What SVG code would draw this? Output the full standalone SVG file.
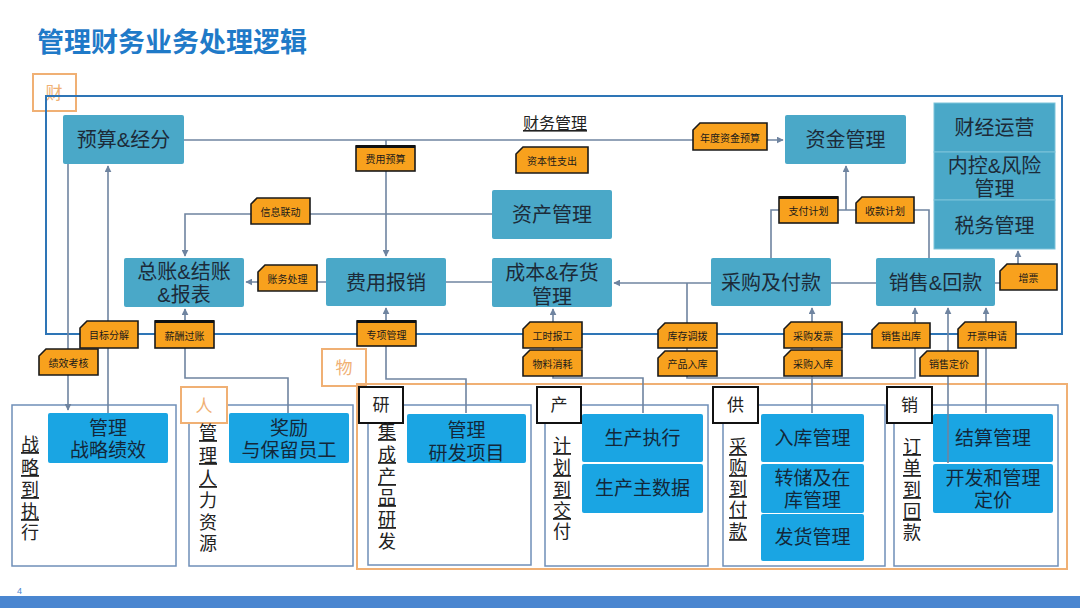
<svg xmlns="http://www.w3.org/2000/svg" width="1080" height="608" viewBox="0 0 1080 608">
<defs>
<marker id="ar" viewBox="0 0 10 10" refX="9" refY="5" markerWidth="7" markerHeight="7" orient="auto" markerUnits="userSpaceOnUse">
<path d="M0,0 L10,5 L0,10 z" fill="#6f84a0"/>
</marker>
<style>
text{font-family:"Liberation Sans","Noto Sans CJK SC",sans-serif;}
.title{font-size:27px;font-weight:bold;fill:#1f7ac8;}
.tn{fill:#4aa8c8;}
.tnt{font-size:20px;fill:#1c2b39;text-anchor:middle;}
.bn{fill:#1aa5e3;}
.bnt{font-size:19px;fill:#13283a;text-anchor:middle;}
.cn{fill:none;stroke:#6f84a0;stroke-width:1.6;}
.frame{fill:none;stroke:#2e75b6;stroke-width:2;}
.ob{fill:#fff;stroke:#f0b074;stroke-width:2;}
.obt{font-size:17px;fill:#f0b074;text-anchor:middle;}
.kb{fill:#fff;stroke:#111;stroke-width:2;}
.kbt{font-size:17px;fill:#222;text-anchor:middle;}
.sf{fill:none;stroke:#6f8fb8;stroke-width:1.5;}
.tag{fill:#f8a11d;stroke:#1a1a1a;stroke-width:1.6;}
.tagt{font-size:10px;fill:#1a1a1a;text-anchor:middle;}
.vt{font-size:18px;fill:#222;text-anchor:middle;}
.u{text-decoration:underline;}
</style>
</defs>
<rect width="1080" height="608" fill="#fff"/>
<text class="title" x="37" y="52">管理财务业务处理逻辑</text>

<g id="cai">
<rect class="ob" x="33" y="74" width="43" height="37"/>
<text class="obt" x="54" y="99">财</text>
</g>
<rect id="frame-cai" class="frame" x="46" y="96" width="1016" height="238"/>

<g id="wu">
<rect class="ob" x="322" y="349" width="44" height="37"/>
<text class="obt" x="344" y="374">物</text>
</g>
<rect id="frame-wu" fill="none" stroke="#f0b074" stroke-width="2" x="357" y="384" width="710" height="185"/>

<g id="sub-frames">
<rect class="sf" x="12" y="405" width="164" height="161"/>
<rect class="sf" x="189" y="405" width="164" height="161"/>
<rect class="sf" x="368" y="405" width="163" height="160"/>
<rect class="sf" x="545" y="405" width="163" height="161"/>
<rect class="sf" x="723" y="405" width="162" height="161"/>
<rect class="sf" x="894" y="405" width="164" height="161"/>
</g>

<text x="555" y="129" font-size="16" fill="#222" text-anchor="middle" text-decoration="underline">财务管理</text>

<g id="connectors">
<path class="cn" d="M184,140 H783" marker-end="url(#ar)"/>
<path class="cn" d="M386,140 V256" marker-end="url(#ar)"/>
<path class="cn" d="M492,214 H185 V256" marker-end="url(#ar)"/>
<path class="cn" d="M326,282 H246" marker-end="url(#ar)"/>
<path class="cn" d="M446,282 H492"/>
<path class="cn" d="M711,283 H614" marker-end="url(#ar)"/>
<path class="cn" d="M876,283 H831"/>
<path class="cn" d="M687,283 V378 H915 V308" marker-end="url(#ar)"/>
<path class="cn" d="M771,258 V210 H929 V258"/>
<path class="cn" d="M846,210 V166" marker-end="url(#ar)"/>
<path class="cn" d="M995,283 H1018 V251" marker-end="url(#ar)"/>
<path class="cn" d="M68,164 V410" marker-end="url(#ar)"/>
<path class="cn" d="M108,413 V166" marker-end="url(#ar)"/>
<path class="cn" d="M288,413 V378 H185 V309" marker-end="url(#ar)"/>
<path class="cn" d="M466,413 V379 H386 V308" marker-end="url(#ar)"/>
<path class="cn" d="M643,413 V378 H553 V309" marker-end="url(#ar)"/>
<path class="cn" d="M812,413 V308" marker-end="url(#ar)"/>
<path class="cn" d="M986,413 V308" marker-end="url(#ar)"/>
</g>

<g id="yusuan"><rect class="tn" x="63" y="115" width="121" height="49" rx="2"/><text class="tnt" x="123.5" y="147">预算&amp;经分</text></g>
<g id="zijin"><rect class="tn" x="785" y="115" width="121" height="49" rx="2"/><text class="tnt" x="845.5" y="147">资金管理</text></g>
<g id="caijing"><rect class="tn" x="934" y="103" width="121" height="49" stroke="#7cc3da" stroke-width="1"/><text class="tnt" x="994.5" y="135">财经运营</text></g>
<g id="neikong"><rect class="tn" x="934" y="152" width="121" height="48" stroke="#7cc3da" stroke-width="1"/><text class="tnt" x="994.5" y="173">内控&amp;风险<tspan x="994.5" dy="23">管理</tspan></text></g>
<g id="shuiwu"><rect class="tn" x="934" y="200" width="121" height="49" stroke="#7cc3da" stroke-width="1"/><text class="tnt" x="994.5" y="233">税务管理</text></g>
<g id="zichan"><rect class="tn" x="492" y="190" width="120" height="49" rx="2"/><text class="tnt" x="552" y="222">资产管理</text></g>
<g id="zongzhang"><rect class="tn" x="124" y="258" width="120" height="49" rx="2"/><text class="tnt" x="184" y="279">总账&amp;结账<tspan x="184" dy="23">&amp;报表</tspan></text></g>
<g id="feiyong"><rect class="tn" x="326" y="258" width="120" height="48" rx="2"/><text class="tnt" x="386" y="290">费用报销</text></g>
<g id="chengben"><rect class="tn" x="492" y="258" width="120" height="49" rx="2"/><text class="tnt" x="552" y="280">成本&amp;存货<tspan x="552" dy="24">管理</tspan></text></g>
<g id="caigou"><rect class="tn" x="711" y="258" width="120" height="48" rx="2"/><text class="tnt" x="771" y="290">采购及付款</text></g>
<g id="xiaoshou"><rect class="tn" x="876" y="258" width="119" height="48" rx="2"/><text class="tnt" x="935.5" y="290">销售&amp;回款</text></g>

<g id="ren">
<rect class="ob" x="181" y="387" width="46" height="36"/>
<text class="obt" x="204" y="412">人</text>
</g>
<g id="yan"><rect class="kb" x="359" y="387" width="44" height="36"/><text class="kbt" x="381" y="411">研</text></g>
<g id="chan"><rect class="kb" x="537" y="387" width="44" height="36"/><text class="kbt" x="559" y="411">产</text></g>
<g id="gong"><rect class="kb" x="713" y="387" width="45" height="36"/><text class="kbt" x="735.5" y="411">供</text></g>
<g id="xiao"><rect class="kb" x="887" y="387" width="45" height="36"/><text class="kbt" x="909.5" y="411">销</text></g>

<g id="zhanlue"><rect class="bn" x="48" y="413" width="120" height="50" rx="2"/><text class="bnt" x="108" y="435">管理<tspan x="108" dy="22">战略绩效</tspan></text></g>
<g id="jiangli"><rect class="bn" x="229" y="413" width="120" height="50" rx="2"/><text class="bnt" x="289" y="435">奖励<tspan x="289" dy="22">与保留员工</tspan></text></g>
<g id="yanfa"><rect class="bn" x="407" y="414" width="119" height="49" rx="2"/><text class="bnt" x="466.5" y="437">管理<tspan x="466.5" dy="23">研发项目</tspan></text></g>
<g id="shengchan"><rect class="bn" x="582" y="414" width="121" height="48" rx="2"/><text class="bnt" x="642.5" y="445">生产执行</text></g>
<g id="zhushuju"><rect class="bn" x="582" y="464" width="121" height="49" rx="2"/><text class="bnt" x="642.5" y="495">生产主数据</text></g>
<g id="ruku"><rect class="bn" x="761" y="414" width="103" height="48" rx="2"/><text class="bnt" x="812.5" y="445">入库管理</text></g>
<g id="zhuanchu"><rect class="bn" x="761" y="464" width="103" height="49" rx="2"/><text class="bnt" x="812.5" y="485">转储及在<tspan x="812.5" dy="22">库管理</tspan></text></g>
<g id="fahuo"><rect class="bn" x="761" y="514" width="103" height="47" rx="2"/><text class="bnt" x="812.5" y="544">发货管理</text></g>
<g id="jiesuan"><rect class="bn" x="933" y="414" width="120" height="48" rx="2"/><text class="bnt" x="993" y="445">结算管理</text></g>
<g id="dingjia"><rect class="bn" x="933" y="464" width="120" height="49" rx="2"/><text class="bnt" x="993" y="485">开发和管理<tspan x="993" dy="22">定价</tspan></text></g>

<path class="cn" d="M948,463 V308" marker-end="url(#ar)"/>

<g id="vtexts">
<text class="vt" x="30" y="451"><tspan class="u">战</tspan><tspan class="u" x="30" dy="23">略</tspan><tspan class="u" x="30" dy="22">到</tspan><tspan class="u" x="30" dy="22">执</tspan><tspan x="30" dy="21">行</tspan></text>
<text class="vt" x="208" y="439"><tspan class="u">管</tspan><tspan class="u" x="208" dy="23">理</tspan><tspan class="u" x="208" dy="23">人</tspan><tspan x="208" dy="22">力</tspan><tspan x="208" dy="22">资</tspan><tspan x="208" dy="21">源</tspan></text>
<text class="vt" x="387" y="438"><tspan class="u">集</tspan><tspan class="u" x="387" dy="23">成</tspan><tspan class="u" x="387" dy="22">产</tspan><tspan class="u" x="387" dy="21">品</tspan><tspan class="u" x="387" dy="22">研</tspan><tspan x="387" dy="22">发</tspan></text>
<text class="vt" x="562" y="452"><tspan class="u">计</tspan><tspan class="u" x="562" dy="22">划</tspan><tspan class="u" x="562" dy="22">到</tspan><tspan class="u" x="562" dy="21">交</tspan><tspan x="562" dy="21">付</tspan></text>
<text class="vt" x="738" y="453"><tspan class="u">采</tspan><tspan class="u" x="738" dy="21">购</tspan><tspan class="u" x="738" dy="21">到</tspan><tspan class="u" x="738" dy="21">付</tspan><tspan class="u" x="738" dy="22">款</tspan></text>
<text class="vt" x="912" y="453"><tspan class="u">订</tspan><tspan class="u" x="912" dy="21">单</tspan><tspan class="u" x="912" dy="22">到</tspan><tspan class="u" x="912" dy="22">回</tspan><tspan x="912" dy="21">款</tspan></text>
</g>

<g id="tags">
<g id="t-niandu"><polygon class="tag" points="700,123 767,123 767,150 693,150 693,130"/><text class="tagt" x="730" y="142">年度资金预算</text></g>
<g id="t-feiyongyusuan"><rect class="tag" x="356" y="146" width="59" height="25"/><line x1="356" y1="146.5" x2="415" y2="146.5" stroke="#111" stroke-width="3"/><text class="tagt" x="385.5" y="163">费用预算</text></g>
<g id="t-ziben"><polygon class="tag" points="523,147 588,147 588,173 516,173 516,154"/><text class="tagt" x="552" y="165">资本性支出</text></g>
<g id="t-xinxi"><polygon class="tag" points="257,198 310,198 310,224 251,224 251,204"/><text class="tagt" x="280.5" y="216">信息联动</text></g>
<g id="t-zhangwu"><polygon class="tag" points="265,265 317,265 317,291 258,291 258,272"/><text class="tagt" x="287.5" y="283">账务处理</text></g>
<g id="t-zhifu"><rect class="tag" x="779" y="197" width="59" height="26"/><line x1="779" y1="197.5" x2="838" y2="197.5" stroke="#111" stroke-width="3"/><text class="tagt" x="808.5" y="215">支付计划</text></g>
<g id="t-shoukuan"><polygon class="tag" points="862,197 914,197 914,223 856,223 856,203"/><text class="tagt" x="885" y="215">收款计划</text></g>
<g id="t-zengpiao"><polygon class="tag" points="1007,264 1057,264 1057,290 1000,290 1000,271"/><text class="tagt" x="1028.5" y="282">增票</text></g>
<g id="t-mubiao"><polygon class="tag" points="87,321 138,321 138,348 80,348 80,328"/><text class="tagt" x="109" y="339">目标分解</text></g>
<g id="t-jixiao"><polygon class="tag" points="46,349 98,349 98,375 39,375 39,356"/><text class="tagt" x="68.5" y="367">绩效考核</text></g>
<g id="t-xinchou"><rect class="tag" x="155" y="321" width="59" height="27"/><line x1="155" y1="321.5" x2="214" y2="321.5" stroke="#111" stroke-width="3"/><text class="tagt" x="184.5" y="340">薪酬过账</text></g>
<g id="t-zhuanxiang"><rect class="tag" x="357" y="321" width="59" height="25"/><line x1="357" y1="321.5" x2="416" y2="321.5" stroke="#111" stroke-width="3"/><text class="tagt" x="386.5" y="339">专项管理</text></g>
<g id="t-gongshi"><polygon class="tag" points="530,322 582,322 582,348 523,348 523,329"/><text class="tagt" x="552.5" y="340">工时报工</text></g>
<g id="t-wuliao"><polygon class="tag" points="530,350 582,350 582,376 523,376 523,357"/><text class="tagt" x="552.5" y="368">物料消耗</text></g>
<g id="t-kucun"><polygon class="tag" points="665,323 717,323 717,348 658,348 658,330"/><text class="tagt" x="687.5" y="340">库存调拨</text></g>
<g id="t-chanpin"><polygon class="tag" points="665,351 717,351 717,376 658,376 658,358"/><text class="tagt" x="687.5" y="368">产品入库</text></g>
<g id="t-cgfapiao"><polygon class="tag" points="791,322 842,322 842,348 784,348 784,329"/><text class="tagt" x="813" y="340">采购发票</text></g>
<g id="t-cgruku"><polygon class="tag" points="791,350 842,350 842,376 784,376 784,357"/><text class="tagt" x="813" y="368">采购入库</text></g>
<g id="t-xschuku"><polygon class="tag" points="879,323 930,323 930,348 872,348 872,330"/><text class="tagt" x="901" y="340">销售出库</text></g>
<g id="t-kaipiao"><polygon class="tag" points="965,322 1016,322 1016,348 958,348 958,329"/><text class="tagt" x="987" y="340">开票申请</text></g>
<g id="t-dingjia"><polygon class="tag" points="927,351 978,351 978,376 920,376 920,358"/><text class="tagt" x="949" y="368">销售定价</text></g>
</g>

<text x="17" y="594" font-size="9" fill="#4a86d0" font-family="Liberation Sans, sans-serif">4</text>
<rect x="0" y="596" width="1080" height="12" fill="#4a86d0"/>
</svg>
